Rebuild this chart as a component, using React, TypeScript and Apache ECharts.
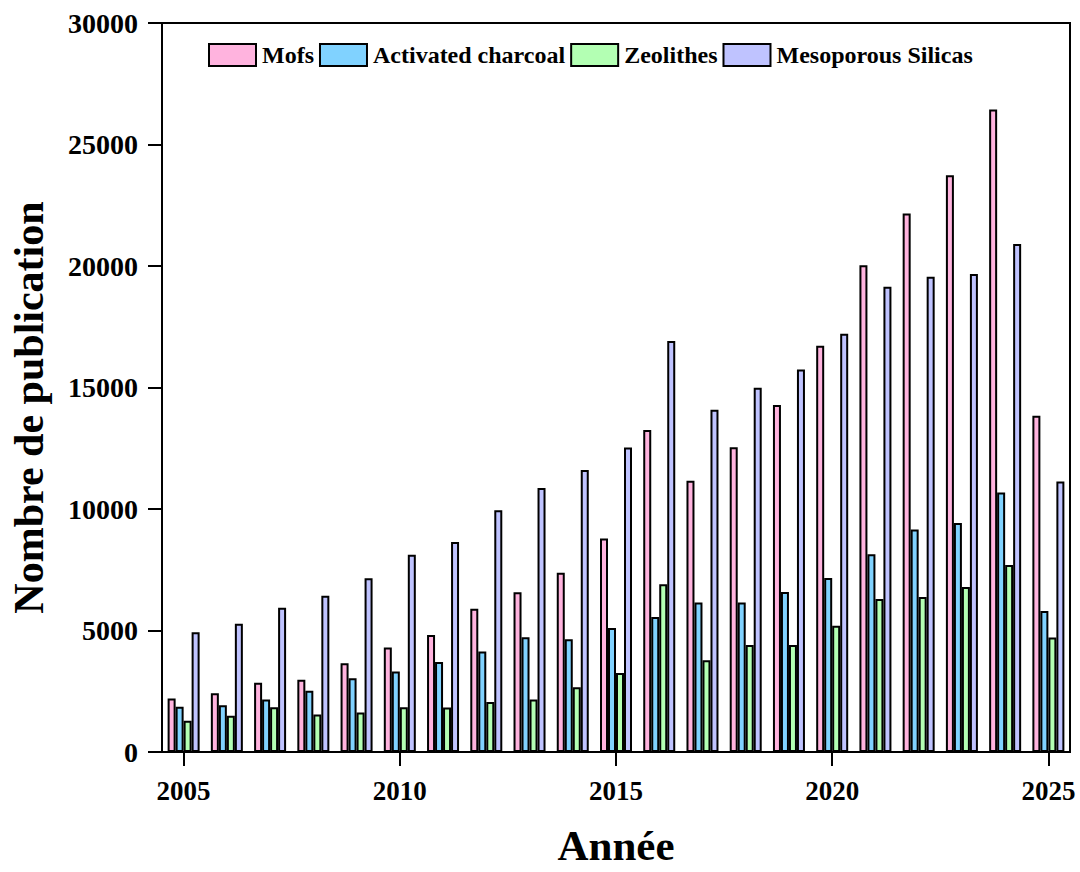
import React, { useEffect, useRef } from "react";
import * as echarts from "echarts";

const years = ["2005","2006","2007","2008","2009","2010","2011","2012","2013","2014","2015","2016","2017","2018","2019","2020","2021","2022","2023","2024","2025"];
const mofs = [2200, 2415, 2850, 2970, 3650, 4300, 4815, 5890, 6570, 7380, 8790, 13250, 11160, 12540, 14280, 16720, 20030, 22160, 23730, 26440, 13840];
const charcoal = [1860, 1925, 2160, 2520, 3040, 3310, 3700, 4140, 4720, 4640, 5100, 5560, 6150, 6150, 6580, 7160, 8135, 9160, 9425, 10680, 5800];
const zeolithes = [1290, 1490, 1845, 1545, 1630, 1845, 1835, 2060, 2160, 2660, 3250, 6900, 3780, 4400, 4400, 5200, 6300, 6380, 6790, 7700, 4710];
const silicas = [4925, 5280, 5940, 6430, 7150, 8120, 8640, 9945, 10860, 11600, 12530, 16910, 14080, 14990, 15740, 17210, 19150, 19560, 19670, 20910, 11130];
const seriesNames = ["Mofs", "Activated charcoal", "Zeolithes", "Mesoporous Silicas"];
const colors = ["#FFB3DE", "#80D2FF", "#B3FFB3", "#BFC3FF"];

const FONT = "'Liberation Serif', 'Times New Roman', serif";

export default function App() {
  const ref = useRef<HTMLDivElement>(null);
  useEffect(() => {
    if (!ref.current) return;
    const chart = echarts.init(ref.current, undefined, { renderer: "svg" });
    const data = [mofs, charcoal, zeolithes, silicas];
    const every5 = (i: number) => i % 5 === 0;
    chart.setOption({
      animation: false,
      backgroundColor: "#ffffff",
      grid: {
        left: 156,
        right: 10,
        top: 23,
        bottom: 112,
        show: true,
        borderColor: "#000",
        borderWidth: 2,
        backgroundColor: "transparent",
      },
      legend: {
        left: 203,
        top: 38,
        icon: "rect",
        itemWidth: 47,
        itemHeight: 22,
        itemGap: 5,
        textStyle: { fontFamily: FONT, fontWeight: "bold", fontSize: 24, color: "#000", padding: [0, 0, 0, 1] },
        data: seriesNames,
      },
      xAxis: {
        type: "category",
        data: years,
        boundaryGap: true,
        name: "Année",
        nameLocation: "middle",
        nameGap: 72,
        nameTextStyle: { fontFamily: FONT, fontWeight: "bold", fontSize: 43, color: "#000", verticalAlign: "top" },
        axisLine: { show: true, lineStyle: { color: "#000", width: 2 } },
        axisTick: { show: true, interval: every5, alignWithLabel: true, length: 14, lineStyle: { color: "#000", width: 2 } },
        axisLabel: { interval: every5, margin: 25, fontFamily: FONT, fontWeight: "bold", fontSize: 27, color: "#000" },
        splitLine: { show: false },
      },
      yAxis: {
        type: "value",
        min: 0,
        max: 30000,
        interval: 5000,
        name: "Nombre de publication",
        nameLocation: "middle",
        nameGap: 112,
        nameRotate: 90,
        nameTextStyle: { fontFamily: FONT, fontWeight: "bold", fontSize: 42, color: "#000", padding: [0, 40, 0, 0] },
        axisLine: { show: true, lineStyle: { color: "#000", width: 2 } },
        axisTick: { show: true, length: 14, lineStyle: { color: "#000", width: 2 } },
        axisLabel: { margin: 24, fontFamily: FONT, fontWeight: "bold", fontSize: 28, color: "#000", formatter: (v: number) => String(v) },
        splitLine: { show: false },
      },
      series: seriesNames.map((name, i) => ({
        name,
        type: "bar",
        data: data[i],
        barWidth: 8,
        barGap: "0%",
        itemStyle: { color: colors[i], borderColor: "#000", borderWidth: 2 },
      })),
    });
    return () => chart.dispose();
  }, []);
  return <div ref={ref} style={{ position: "fixed", left: 0, top: 0, width: 1080, height: 872 }} />;
}
